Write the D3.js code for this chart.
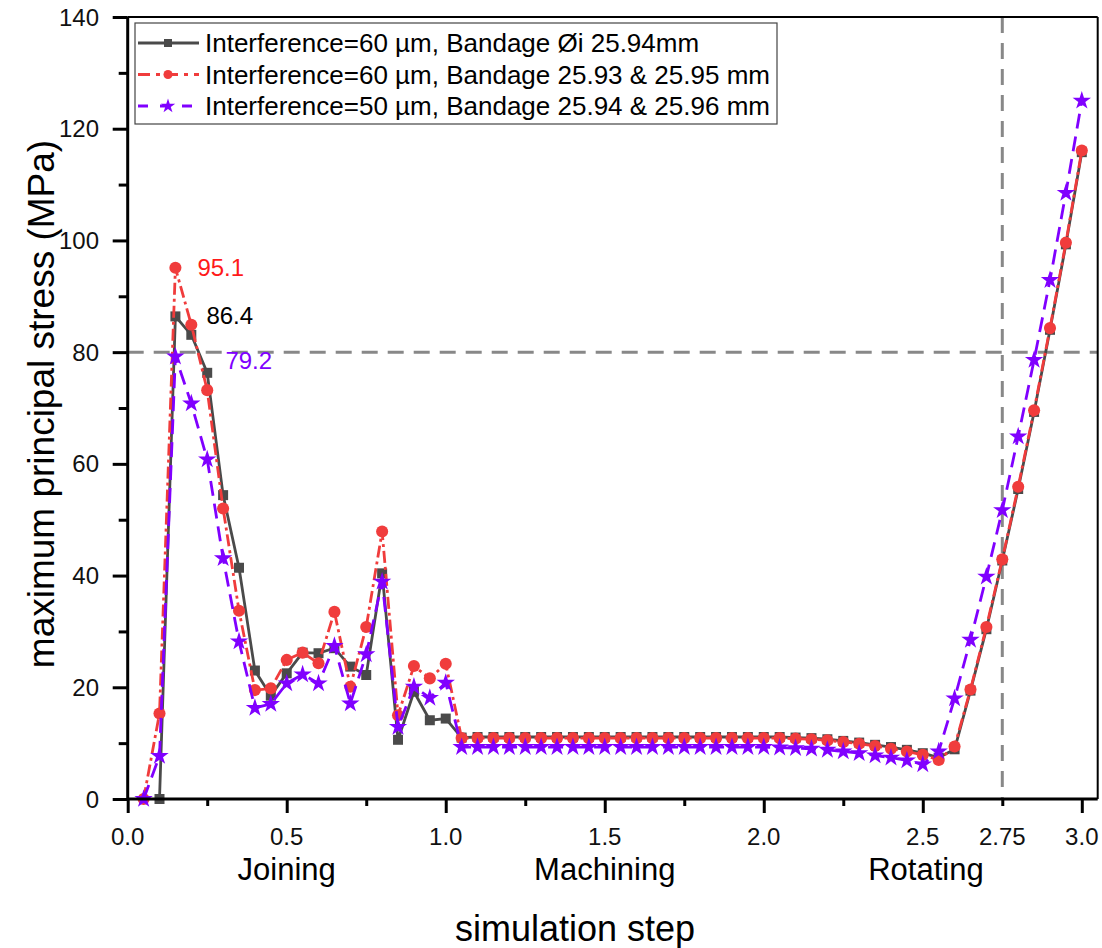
<!DOCTYPE html>
<html><head><meta charset="utf-8">
<script src="https://cdn.jsdelivr.net/npm/d3@7"></script>
<style>
html,body{margin:0;padding:0;background:#fff;}
text{font-family:"Liberation Sans",Arial,sans-serif;}
</style></head>
<body>
<svg id="chart" width="1102" height="948"></svg>
<script>
const steps = [0.05,0.10,0.15,0.20,0.25,0.30,0.35,0.40,0.45,0.50,0.55,0.60,0.65,0.70,0.75,0.80,0.85,0.90,0.95,1.00,1.05,
1.10,1.15,1.20,1.25,1.30,1.35,1.40,1.45,1.50,1.55,1.60,1.65,1.70,1.75,1.80,1.85,1.90,1.95,2.00,2.05,2.10,
2.15,2.20,2.25,2.30,2.35,2.40,2.45,2.50,2.55,2.60,2.65,2.70,2.75,2.80,2.85,2.90,2.95,3.00];

const blackSeries = [null,0,86.4,83.1,76.3,54.4,41.4,23.0,18.5,22.5,26.2,26.1,27.0,23.7,22.2,40.4,10.6,19.2,14.1,14.4,11.0,
11.1,11.1,11.1,11.1,11.1,11.1,11.1,11.1,11.1,11.1,11.1,11.1,11.1,11.1,11.1,11.1,11.1,11.1,11.1,11.1,11.0,
10.9,10.7,10.4,10.1,9.7,9.3,8.8,8.2,7.4,8.9,19.4,30.4,42.7,55.5,69.3,84.0,99.3,115.8];

const redSeries = [0,15.3,95.1,84.9,73.2,52.0,33.7,19.5,19.8,24.9,26.2,24.3,33.5,20.1,30.8,47.9,15.0,23.8,21.6,24.2,10.9,
10.9,10.9,10.9,10.9,10.9,10.9,10.9,10.9,10.9,10.9,10.9,10.9,10.9,10.9,10.9,10.9,10.9,10.9,10.9,10.9,10.8,
10.7,10.5,10.2,9.9,9.5,9.0,8.5,7.9,7.0,9.4,19.6,30.8,42.9,55.9,69.6,84.3,99.6,116.1];

const purpleSeries = [0,7.7,79.2,70.8,60.8,43.1,28.2,16.3,17.0,20.7,22.3,20.7,27.4,17.1,25.9,38.9,12.9,20.1,18.1,20.8,9.3,
9.3,9.3,9.3,9.3,9.3,9.3,9.3,9.3,9.3,9.3,9.3,9.3,9.3,9.3,9.3,9.3,9.3,9.3,9.3,9.2,9.1,
9.0,8.8,8.5,8.2,7.8,7.4,6.9,6.2,8.5,18.0,28.5,39.8,51.7,64.9,78.6,92.9,108.5,125.0];

const seriesNames = ["Interference=60 µm, Bandage Øi 25.94mm",
                     "Interference=60 µm, Bandage 25.93 & 25.95 mm",
                     "Interference=50 µm, Bandage 25.94 & 25.96 mm"];
const xMajorTicks = [0,0.5,1.0,1.5,2.0,2.5,3.0];
const xMinorTicks = [0.25,0.75,1.25,1.75,2.25,2.75];
const xTickLabels = [[0,"0.0"],[0.5,"0.5"],[1.0,"1.0"],[1.5,"1.5"],[2.0,"2.0"],[2.5,"2.5"],[2.75,"2.75"],[3.0,"3.0"]];
const yMajorTicks = [0,20,40,60,80,100,120,140];
const yMinorTicks = [10,30,50,70,90,110,130];
const phaseLabels = [[0.5,"Joining"],[1.5,"Machining"],[2.51,"Rotating"]];
const refY = 80, refX = 2.75;
const peakLabels = [[0.15,95.1,"95.1"],[0.15,86.4,"86.4"],[0.15,79.2,"79.2"]];

const svg = d3.select("#chart");
const L = 127.7, R = 1097.7, T = 17, B = 799;
const x = d3.scaleLinear().domain([0,3.05]).range([L,R]);
const y = d3.scaleLinear().domain([0,140]).range([B,T]);

const styles = [
  {color:"#4a4a4a", dash:null, sym:d3.symbolSquare, size:100},
  {color:"#f03c3c", dash:"12,4,3,4", sym:d3.symbolCircle, size:115},
  {color:"#8000ff", dash:"15,8", sym:d3.symbolStar, size:105}
];
const allSeries = [blackSeries, redSeries, purpleSeries];

// reference dashed lines
svg.append("line").attr("x1",L).attr("x2",R).attr("y1",y(refY)).attr("y2",y(refY))
  .attr("stroke","#888").attr("stroke-width",3).attr("stroke-dasharray","16,10");
svg.append("line").attr("x1",x(refX)).attr("x2",x(refX)).attr("y1",T).attr("y2",B)
  .attr("stroke","#888").attr("stroke-width",3).attr("stroke-dasharray","16,10");

// series
allSeries.forEach((vals,si)=>{
  const st = styles[si];
  const pts = steps.map((s,i)=>[s,vals[i]]).filter(d=>d[1]!==null);
  const line = d3.line().x(d=>x(d[0])).y(d=>y(d[1]));
  svg.append("path").datum(pts).attr("d",line).attr("fill","none")
    .attr("stroke",st.color).attr("stroke-width",2.8)
    .attr("stroke-dasharray",st.dash).attr("stroke-linejoin","round");
  svg.append("g").selectAll("path").data(pts).join("path")
    .attr("d",d3.symbol().type(st.sym).size(st.size))
    .attr("transform",d=>`translate(${x(d[0])},${y(d[1])})`)
    .attr("fill",st.color);
});

// axes frame
const ax = svg.append("g").attr("stroke","#000");
ax.append("line").attr("x1",L).attr("x2",R).attr("y1",B).attr("y2",B).attr("stroke-width",3);
ax.append("line").attr("x1",L).attr("x2",L).attr("y1",T).attr("y2",B).attr("stroke-width",3);
ax.append("line").attr("x1",L).attr("x2",R).attr("y1",T).attr("y2",T).attr("stroke-width",2);
ax.append("line").attr("x1",R).attr("x2",R).attr("y1",T).attr("y2",B).attr("stroke-width",2);

// x axis ticks via d3 axis
const xAxisMajor = d3.axisBottom(x).tickValues(xMajorTicks).tickSize(14).tickFormat("");
const xAxisMinor = d3.axisBottom(x).tickValues(xMinorTicks).tickSize(7).tickFormat("");
[xAxisMajor,xAxisMinor].forEach(a=>{
  const g = svg.append("g").attr("transform",`translate(0,${B})`).call(a);
  g.select(".domain").remove();
  g.selectAll("line").attr("stroke","#000").attr("stroke-width",3);
});
svg.append("g").selectAll("text").data(xTickLabels).join("text")
  .attr("x",d=>x(d[0])).attr("y",845).attr("text-anchor","middle")
  .attr("font-size",24).attr("fill","#111").text(d=>d[1]);

const yAxisMajor = d3.axisLeft(y).tickValues(yMajorTicks).tickSize(15).tickFormat("");
const yAxisMinor = d3.axisLeft(y).tickValues(yMinorTicks).tickSize(9).tickFormat("");
[yAxisMajor,yAxisMinor].forEach(a=>{
  const g = svg.append("g").attr("transform",`translate(${L},0)`).call(a);
  g.select(".domain").remove();
  g.selectAll("line").attr("stroke","#000").attr("stroke-width",3);
});
svg.append("g").selectAll("text").data(yMajorTicks).join("text")
  .attr("x",99).attr("y",d=>y(d)+8.5).attr("text-anchor","end")
  .attr("font-size",24).attr("fill","#111").text(d=>d);

// phase labels
svg.append("g").selectAll("text").data(phaseLabels).join("text")
  .attr("x",d=>x(d[0])).attr("y",880).attr("text-anchor","middle")
  .attr("font-size",31).attr("fill","#000").text(d=>d[1]);

// axis titles
svg.append("text").attr("x",575).attr("y",941).attr("text-anchor","middle")
  .attr("font-size",36).attr("fill","#000").text("simulation step");
svg.append("text").attr("transform","translate(54,404) rotate(-90)").attr("text-anchor","middle")
  .attr("font-size",37).attr("fill","#000").text("maximum principal stress (MPa)");

// peak annotations
const peakColors = ["#ff1a1a","#000","#8000ff"];
const peakOffsets = [[22,8],[31,8],[50,12]];
svg.append("g").selectAll("text").data(peakLabels).join("text")
  .attr("x",(d,i)=>x(d[0])+peakOffsets[i][0]).attr("y",(d,i)=>y(d[1])+peakOffsets[i][1])
  .attr("font-size",24).attr("fill",(d,i)=>peakColors[i]).text(d=>d[2]);

// legend
const lg = svg.append("g");
lg.append("rect").attr("x",135).attr("y",23).attr("width",642).attr("height",101)
  .attr("fill","#fff").attr("stroke","#444").attr("stroke-width",1.2);
seriesNames.forEach((name,i)=>{
  const st = styles[i];
  const cy = 43 + i*31.5;
  lg.append("line").attr("x1",138).attr("x2",199).attr("y1",cy).attr("y2",cy)
    .attr("stroke",st.color).attr("stroke-width",2.8).attr("stroke-dasharray",i===1?"12,6,4,6":(i===2?"10,12":null));
  lg.append("path").attr("d",d3.symbol().type(st.sym).size(i===2?65:65)())
    .attr("transform",`translate(168,${cy})`).attr("fill",st.color);
  lg.append("text").attr("x",205).attr("y",cy+9).attr("font-size",26).attr("fill","#000").text(name);
});
</script>
</body></html>
